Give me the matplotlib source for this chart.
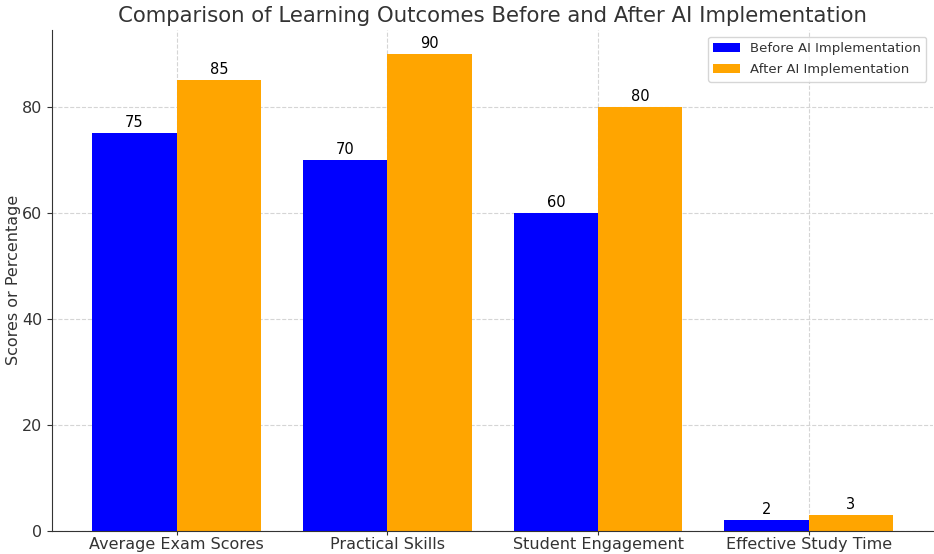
import numpy as np
import matplotlib
matplotlib.use('Agg')
import matplotlib.pyplot as plt

# data
categories = ['Average Exam Scores', 'Practical Skills', 'Student Engagement', 'Effective Study Time']
before_ai = [75, 70, 60, 2]
after_ai = [85, 90, 80, 3]

x = np.arange(len(categories))
width = 0.4
text_col = '#333333'

fig, ax = plt.subplots(figsize=(9.34, 5.54), dpi=100)
fig.subplots_adjust(left=0.056, right=0.999, bottom=0.042, top=0.946)

b1 = ax.bar(x - width / 2, before_ai, width, color='blue', label='Before AI Implementation')
b2 = ax.bar(x + width / 2, after_ai, width, color='orange', label='After AI Implementation')

# value labels above bars
for bars in (b1, b2):
    ax.bar_label(bars, padding=2, fontsize=10.5, color='black')

ax.set_title('Comparison of Learning Outcomes Before and After AI Implementation',
             fontsize=15.3, color=text_col, pad=6)
ax.set_ylabel('Scores or Percentage', fontsize=11.5, color=text_col, labelpad=1)
ax.set_xticks(x)
ax.set_xticklabels(categories, fontsize=11.5, color=text_col)
ax.tick_params(axis='y', labelsize=11.5, labelcolor=text_col, color=text_col)
ax.tick_params(axis='x', color=text_col, length=3, pad=1.5)

ax.grid(True, linestyle='--', color='#d5d5d5', linewidth=0.8)
ax.set_axisbelow(True)
for side in ('top', 'right'):
    ax.spines[side].set_visible(False)
for side in ('left', 'bottom'):
    ax.spines[side].set_color(text_col)

ax.legend(fontsize=9.5, loc='upper right', labelcolor=text_col, labelspacing=0.65)

plt.savefig('out.png', dpi=100)
